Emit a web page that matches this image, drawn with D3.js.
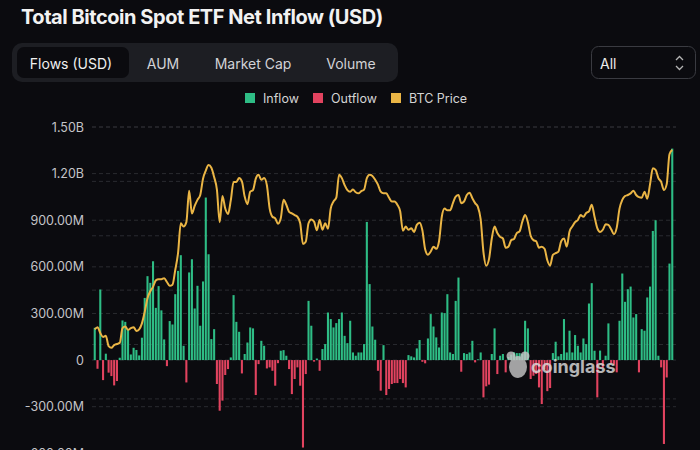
<!DOCTYPE html>
<html>
<head>
<meta charset="utf-8">
<script src="https://cdn.jsdelivr.net/npm/d3@7/dist/d3.min.js"></script>
<style>
  body { margin: 0; background: #0b0b0f; }
  svg { display: block; font-family: Inter, "Noto Sans", sans-serif; }
</style>
</head>
<body>
<div id="chart"></div>
<script>
// daily net flow, millions of USD (Jan .. Nov 2024, trading days)
const flowsJanMar = [208, -56, 454, -129, 41, -81, -103, -163, -135, 15,
  255, 246, 200, 36, 79, 65, 30, 144, 400, 540,
  497, 636, 336, 476, 320, 133, -39, 251, 229, 424,
  574, 675, 92, -144, 564, 649, 332, 478, 221, 506,
  1046, 681];
const flowsMarMay = [135, 199, -154, -326, -261, -96, -58, 17, 418, 246,
  182, -86, 39, 113, 210, 204, -225, -26, 124, 92,
  -54, -47, -69, -165, -20, 60, 64, 28, -58, -219,
  -122, -47, -165, -563, -90, 381, 221, -10, 10, -69];
const flowsMayJul = [71, 103, 306, 264, 210, 238, 264, 306, 156, 109,
  253, 49, 28, 49, 49, 103, 889, 489, 216, 131,
  -69, -197, 96, -225, -186, -154, -148, -148, -122, -148,
  -176, 32, 24, 17, 75, 129, -11, -21, 139, 296,
  216, 146, 81];
const flowsJulSep = [306, 302, 424, 49, 39, 381, 531, -75, 45, 39,
  49, 124, -15, 5, 49, -240, -169, -158, 39, 204,
  -90, 28, 39, -79, 20, 35, 50, 45, 45, 40,
  253, 204, -122, -101, -90, -176, -283, -60, -200, -180];
const flowsSepNov = [45, 118, 24, 39, 264, 49, 189, 49, 161, 92,
  49, 139, 103, 364, 495, 60, -240, 61, -50, 28,
  236, -19, -30, -79, 253, 557, 375, 456, 473, 274,
  296, -79, 199, 189, 403, 473, 831, 900, 28, -47,
  -540, -112, 621, 1361];
const flows = [].concat(flowsJanMar, flowsMarMay, flowsMayJul, flowsJulSep, flowsSepNov);

// BTC price, thousands of USD, same days
const btcPrice = [42.8, 43.2, 42.1, 41.4, 41.6, 39.7, 39.4, 39.9, 40.1, 40.3,
  43.0, 43.3, 42.7, 43.0, 43.2, 42.5, 42.8, 43.9, 46.0, 48.5,
  49.8, 50.6, 51.8, 52.0, 52.0, 52.2, 51.5, 50.8, 51.0, 53.7,
  56.8, 62.3, 61.7, 62.5, 68.3, 64.1, 65.5, 66.6, 67.5, 70.5,
  72.0, 73.0, 72.5, 70.8, 68.5, 62.5, 67.3, 65.0, 64.0, 66.5,
  69.9, 69.9, 70.6, 70.0, 67.2, 65.8, 68.1, 68.4, 70.5, 71.2,
  70.3, 70.6, 69.3, 65.0, 63.5, 63.2, 62.2, 63.2, 66.6, 65.7,
  64.4, 64.1, 63.8, 63.5, 62.3, 58.5, 58.9, 62.3, 63.0, 62.6,
  61.0, 62.9, 61.1, 62.3, 61.3, 65.0, 66.3, 67.0, 71.2, 70.6,
  69.3, 68.4, 68.1, 68.5, 68.0, 67.8, 68.2, 68.5, 70.6, 71.2,
  71.0, 70.3, 69.4, 68.1, 67.8, 67.8, 67.0, 66.3, 66.3, 65.7,
  64.5, 60.9, 61.7, 61.1, 61.4, 60.7, 62.0, 62.4, 61.0, 57.5,
  56.5, 57.1, 58.0, 57.6, 59.0, 63.5, 65.0, 64.7, 64.7, 66.0,
  67.2, 67.5, 66.0, 66.3, 67.5, 67.9, 66.9, 66.0, 65.3, 63.0,
  57.0, 54.5, 55.7, 59.5, 61.7, 60.5, 59.8, 59.5, 57.8, 58.0,
  59.2, 59.4, 60.5, 60.8, 62.6, 63.8, 62.5, 60.0, 59.2, 59.0,
  57.8, 58.0, 57.6, 55.5, 54.5, 56.5, 56.8, 57.1, 59.0, 59.5,
  58.0, 60.8, 61.7, 62.5, 62.9, 63.8, 63.5, 64.2, 64.5, 65.7,
  63.5, 61.4, 60.7, 61.1, 62.1, 62.0, 61.2, 60.3, 61.5, 65.0,
  66.6, 67.3, 67.5, 67.8, 68.3, 67.5, 67.1, 67.0, 68.1, 66.8,
  69.5, 72.4, 72.1, 70.6, 69.9, 68.4, 69.5, 75.0, 75.8];

const flowTicks = [-600, -300, 0, 300, 600, 900, 1200, 1500];
const priceTicks = [30, 40, 50, 60, 70, 80];
const tabNames = ["Flows (USD)", "AUM", "Market Cap", "Volume"];
const legendNames = ["Inflow", "Outflow", "BTC Price"];

const width = 700, height = 450;
const green = "#2ebd85", red = "#e2435f", gold = "#eab545";

const svg = d3.select("#chart").append("svg")
  .attr("width", width)
  .attr("height", height);

svg.append("rect").attr("width", width).attr("height", height).attr("fill", "#0b0b0f");

// title
svg.append("text")
  .attr("x", 21).attr("y", 24)
  .attr("fill", "#f2f2f2")
  .attr("font-size", "20px")
  .attr("font-weight", 700)
  .attr("letter-spacing", "-0.45px")
  .text("Total Bitcoin Spot ETF Net Inflow (USD)");

// tab bar
svg.append("rect")
  .attr("x", 12).attr("y", 43).attr("width", 386).attr("height", 39)
  .attr("rx", 10).attr("fill", "#1d1e23");
svg.append("rect")
  .attr("x", 17).attr("y", 47).attr("width", 112).attr("height", 31)
  .attr("rx", 7).attr("fill", "#0b0b0f");
const tabX = [71, 163, 253, 351];
svg.selectAll(".tab")
  .data(tabNames)
  .enter()
  .append("text")
  .attr("class", "tab")
  .attr("x", (d, i) => tabX[i])
  .attr("y", 63)
  .attr("text-anchor", "middle")
  .attr("dominant-baseline", "central")
  .attr("font-size", "14px")
  .attr("fill", (d, i) => i === 0 ? "#f0f0f0" : "#d2d2d6")
  .text(d => d);

// range dropdown
svg.append("rect")
  .attr("x", 591.5).attr("y", 46.5).attr("width", 104).attr("height", 32)
  .attr("rx", 7).attr("fill", "none").attr("stroke", "#3a3b41");
svg.append("text")
  .attr("x", 600).attr("y", 63)
  .attr("dominant-baseline", "central")
  .attr("font-size", "14px")
  .attr("fill", "#ececec")
  .text("All");
svg.append("path")
  .attr("d", "M676,60 L679.5,56.5 L683,60 M676,66 L679.5,69.5 L683,66")
  .attr("fill", "none").attr("stroke", "#b5b5b5").attr("stroke-width", 1.3);

// legend
const legendColors = [green, red, gold];
const legendX = [245, 313, 391];
const legend = svg.selectAll(".legend")
  .data(legendNames)
  .enter()
  .append("g")
  .attr("class", "legend")
  .attr("transform", (d, i) => "translate(" + legendX[i] + ",93)");
legend.append("rect")
  .attr("width", 10).attr("height", 10)
  .attr("fill", (d, i) => legendColors[i]);
legend.append("text")
  .attr("x", 18).attr("y", 5)
  .attr("dominant-baseline", "central")
  .attr("font-size", "12.5px")
  .attr("fill", "#d4d4d4")
  .text(d => d);

// scales
const x = d3.scaleBand()
  .domain(d3.range(flows.length))
  .range([93, 674])
  .padding(0.25);
const y = d3.scaleLinear().domain([-600, 1500]).range([453.3, 127]);
const yPrice = d3.scaleLinear().domain([20, 80]).range([453.3, 127]);

// grid lines (both axes)
svg.selectAll(".grid")
  .data(flowTicks)
  .enter()
  .append("line")
  .attr("x1", 92).attr("x2", 676)
  .attr("y1", d => y(d)).attr("y2", d => y(d))
  .attr("stroke", "#2a2b30")
  .attr("stroke-dasharray", "4,3");
svg.selectAll(".grid2")
  .data(priceTicks)
  .enter()
  .append("line")
  .attr("x1", 92).attr("x2", 676)
  .attr("y1", d => yPrice(d)).attr("y2", d => yPrice(d))
  .attr("stroke", "#2a2b30")
  .attr("stroke-dasharray", "4,3");

// y axis labels
const fmt = v => v === 0 ? "0" : Math.abs(v) >= 1000 ? (v / 1000).toFixed(2) + "B" : v.toFixed(2) + "M";
const yAxis = svg.append("g")
  .attr("transform", "translate(84,0)")
  .call(d3.axisLeft(y).tickValues(flowTicks).tickFormat(fmt).tickSize(0).tickPadding(0));
yAxis.select(".domain").remove();
yAxis.selectAll("text")
  .attr("fill", "#c4c4c8")
  .attr("font-size", "12.5px")
  .attr("font-family", "Inter, 'Noto Sans', sans-serif");

// bars
svg.selectAll(".bar")
  .data(flows)
  .enter()
  .append("rect")
  .attr("class", "bar")
  .attr("x", (d, i) => x(i))
  .attr("width", x.bandwidth())
  .attr("y", d => d >= 0 ? y(d) : y(0))
  .attr("height", d => Math.abs(y(d) - y(0)))
  .attr("fill", d => d >= 0 ? green : red);

// BTC price line
const line = d3.line()
  .x((d, i) => x(i) + x.bandwidth() / 2)
  .y(d => yPrice(d))
  .curve(d3.curveMonotoneX);
svg.append("path")
  .datum(btcPrice)
  .attr("d", line)
  .attr("fill", "none")
  .attr("stroke", gold)
  .attr("stroke-width", 2);

// watermark
const wm = svg.append("g").attr("opacity", 0.8);
wm.append("ellipse").attr("cx", 518).attr("cy", 367).attr("rx", 9).attr("ry", 11).attr("fill", "#c8c8c8");
wm.append("circle").attr("cx", 511).attr("cy", 356).attr("r", 4.5).attr("fill", "#c8c8c8");
wm.append("circle").attr("cx", 525).attr("cy", 356).attr("r", 4.5).attr("fill", "#c8c8c8");
wm.append("text")
  .attr("x", 531).attr("y", 366)
  .attr("dominant-baseline", "central")
  .attr("font-size", "18px")
  .attr("font-weight", 700)
  .attr("fill", "#e0e0e0")
  .text("coinglass");
</script>
</body>
</html>
